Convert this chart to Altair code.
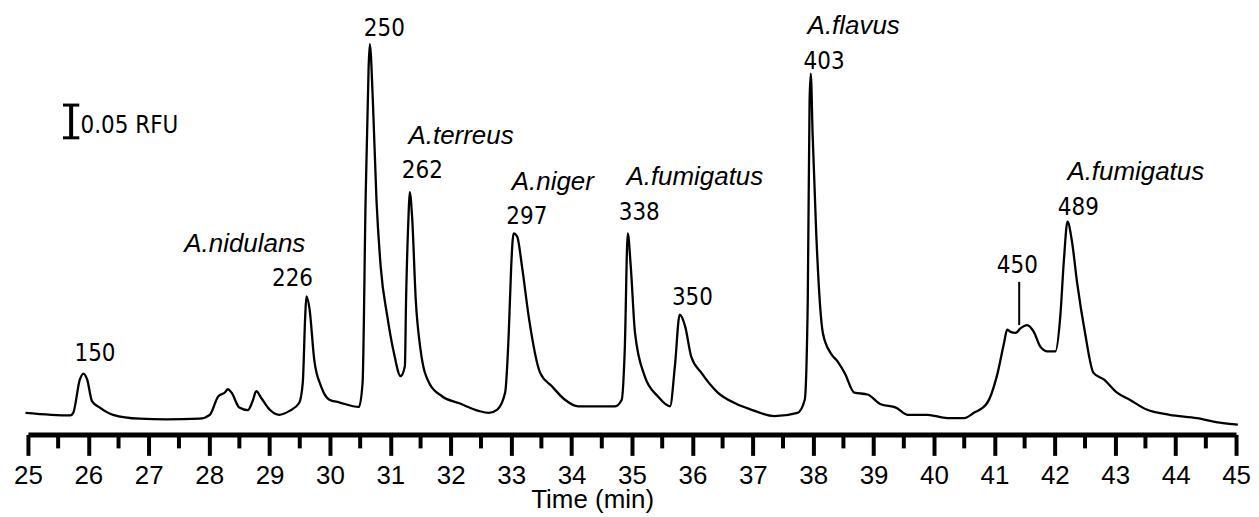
import altair as alt
import pandas as pd

# ---- trace (retention time in min, signal in RFU) ----
time_min = [24.96, 25.70, 25.75, 25.86, 25.92, 25.98, 26.06, 26.19, 26.41, 26.85,
            27.29, 27.84, 28.01, 28.15, 28.26, 28.31, 28.37, 28.50, 28.64, 28.72,
            28.78, 28.86, 29.00, 29.16, 29.33, 29.49, 29.55, 29.59, 29.61, 29.66,
            29.74, 29.85, 29.99, 30.15, 30.48, 30.54, 30.59, 30.64, 30.66, 30.71,
            30.77, 30.84, 30.95, 31.06, 31.17, 31.24, 31.26, 31.30, 31.32, 31.36,
            31.42, 31.50, 31.64, 31.86, 32.13, 32.46, 32.63, 32.77, 32.90, 32.96,
            33.00, 33.04, 33.10, 33.18, 33.29, 33.48, 33.67, 33.89, 34.11, 34.72,
            34.83, 34.88, 34.93, 34.98, 35.05, 35.21, 35.43, 35.63, 35.71, 35.79,
            35.88, 35.98, 36.15, 36.42, 36.70, 36.97, 37.36, 37.74, 37.86, 37.91,
            37.94, 37.96, 37.99, 38.05, 38.16, 38.29, 38.40, 38.52, 38.68, 38.90,
            39.12, 39.37, 39.56, 39.89, 40.22, 40.50, 40.66, 40.88, 41.04, 41.16,
            41.21, 41.26, 41.35, 41.43, 41.54, 41.65, 41.76, 41.87, 42.01, 42.09,
            42.15, 42.21, 42.28, 42.37, 42.50, 42.64, 42.81, 43.03, 43.24, 43.52,
            43.90, 44.35, 44.73, 45.03]
rfu = [0.033, 0.029, 0.033, 0.084, 0.093, 0.084, 0.051, 0.041, 0.030, 0.024,
       0.023, 0.024, 0.030, 0.058, 0.064, 0.069, 0.064, 0.041, 0.037, 0.051,
       0.066, 0.056, 0.038, 0.030, 0.036, 0.048, 0.079, 0.180, 0.211, 0.193,
       0.114, 0.074, 0.053, 0.049, 0.042, 0.079, 0.358, 0.561, 0.596, 0.510,
       0.358, 0.256, 0.180, 0.124, 0.089, 0.104, 0.206, 0.332, 0.370, 0.332,
       0.206, 0.129, 0.079, 0.058, 0.048, 0.036, 0.033, 0.038, 0.064, 0.155,
       0.256, 0.307, 0.302, 0.256, 0.180, 0.094, 0.074, 0.053, 0.043, 0.043,
       0.053, 0.129, 0.307, 0.256, 0.155, 0.089, 0.058, 0.043, 0.104, 0.183,
       0.165, 0.119, 0.094, 0.064, 0.048, 0.038, 0.028, 0.033, 0.053, 0.206,
       0.510, 0.551, 0.459, 0.307, 0.155, 0.124, 0.112, 0.094, 0.064, 0.061,
       0.046, 0.041, 0.030, 0.030, 0.025, 0.025, 0.033, 0.048, 0.089, 0.140,
       0.160, 0.157, 0.155, 0.162, 0.167, 0.157, 0.134, 0.127, 0.127, 0.180,
       0.266, 0.325, 0.297, 0.231, 0.155, 0.094, 0.084, 0.064, 0.053, 0.038,
       0.030, 0.025, 0.018, 0.015]

# ---- peak size labels ----
peak_labels = ["150", "226", "250", "262", "297", "338", "350", "403", "450", "489"]
peak_time = [26.11, 29.38, 30.90, 31.53, 33.26, 35.12, 36.00, 38.18, 41.38, 42.39]
peak_rfu = [0.112, 0.226, 0.609, 0.391, 0.322, 0.327, 0.198, 0.558, 0.246, 0.335]

# ---- species labels ----
species = ["A.nidulans", "A.terreus", "A.niger", "A.fumigatus", "A.flavus", "A.fumigatus"]
species_time = [28.59, 32.17, 33.69, 36.04, 38.67, 43.34]
species_rfu = [0.279, 0.443, 0.373, 0.381, 0.612, 0.388]

# ---- pointer line for the 450 peak ----
pointer_time = [41.41]
pointer_from = [0.167]
pointer_to = [0.233]

# ---- scale bar (0.05 RFU) ----
bar_time = [25.715]
bar_low = [0.453]
bar_high = [0.503]
bar_cap_left = [25.58, 25.58]
bar_cap_right = [25.85, 25.85]
bar_cap_rfu = [0.453, 0.503]
bar_text = ["0.05 RFU"]
bar_text_time = [25.87]
bar_text_rfu = [0.461]

# ---- axis ticks ----
major_ticks = [25, 26, 27, 28, 29, 30, 31, 32, 33, 34, 35, 36, 37, 38, 39, 40,
               41, 42, 43, 44, 45]
minor_ticks = [25.5, 26.5, 27.5, 28.5, 29.5, 30.5, 31.5, 32.5, 33.5, 34.5, 35.5,
               36.5, 37.5, 38.5, 39.5, 40.5, 41.5, 42.5, 43.5, 44.5]

W, H = 1212, 427
NARROW = "'DejaVu Sans Condensed', 'Liberation Sans Narrow', sans-serif"
SANS = "'Liberation Sans', Arial, sans-serif"

x_scale = alt.Scale(domain=[25, 45], nice=False, zero=False)
y_scale = alt.Scale(domain=[0, 0.65], nice=False, zero=False)

x_axis = alt.Axis(
    values=major_ticks, format="d", grid=False,
    domainColor="black", domainWidth=5,
    tickColor="black", tickWidth=4, tickSize=21,
    labelFont=SANS, labelFontSize=26, labelColor="black", labelPadding=7,
    labelFlush=False, labelOverlap=False,
    title="Time (min)", titleFont=SANS, titleFontSize=26, titleFontWeight="normal",
    titleColor="black", titleX=566, titleY=73, titleAlign="center",
    titleBaseline="alphabetic", titleAnchor="start",
)

trace = pd.DataFrame({"t": time_min, "rfu": rfu})
line = alt.Chart(trace).mark_line(
    color="black", strokeWidth=2.3, strokeJoin="round", interpolate="monotone"
).encode(
    x=alt.X("t:Q", scale=x_scale, axis=x_axis),
    y=alt.Y("rfu:Q", scale=y_scale, axis=None),
)

minor = alt.Chart(pd.DataFrame({"t": minor_ticks})).mark_rule(
    color="black", strokeWidth=4
).encode(x=alt.X("t:Q"), y=alt.value(H), y2=alt.value(H + 14))

peaks = alt.Chart(pd.DataFrame({"t": peak_time, "rfu": peak_rfu, "label": peak_labels})).mark_text(
    font=NARROW, fontSize=24, align="center", baseline="alphabetic", color="black"
).encode(x="t:Q", y="rfu:Q", text="label:N")

names = alt.Chart(pd.DataFrame({"t": species_time, "rfu": species_rfu, "label": species})).mark_text(
    font=SANS, fontSize=26, fontStyle="italic", align="center", baseline="alphabetic", color="black"
).encode(x="t:Q", y="rfu:Q", text="label:N")

pointer = alt.Chart(pd.DataFrame({"t": pointer_time, "rfu": pointer_from, "rfu2": pointer_to})).mark_rule(
    color="black", strokeWidth=2
).encode(x="t:Q", y="rfu:Q", y2="rfu2:Q")

bar = alt.Chart(pd.DataFrame({"t": bar_time, "rfu": bar_low, "rfu2": bar_high})).mark_rule(
    color="black", strokeWidth=4
).encode(x="t:Q", y="rfu:Q", y2="rfu2:Q")

caps = alt.Chart(pd.DataFrame({"t": bar_cap_left, "t2": bar_cap_right, "rfu": bar_cap_rfu})).mark_rule(
    color="black", strokeWidth=3
).encode(x="t:Q", x2="t2:Q", y="rfu:Q")

bar_label = alt.Chart(pd.DataFrame({"t": bar_text_time, "rfu": bar_text_rfu, "label": bar_text})).mark_text(
    font=NARROW, fontSize=24, align="left", baseline="alphabetic", color="black"
).encode(x="t:Q", y="rfu:Q", text="label:N")

chart = alt.layer(line, minor, pointer, bar, caps, peaks, names, bar_label).properties(
    width=W, height=H,
    padding={"left": 20, "top": 0, "right": 15, "bottom": 80},
    autosize=alt.AutoSizeParams(type="none"),
    background="white",
).configure_view(stroke=None)

chart.save("out.html", embed_options={"renderer": "svg", "actions": False})
